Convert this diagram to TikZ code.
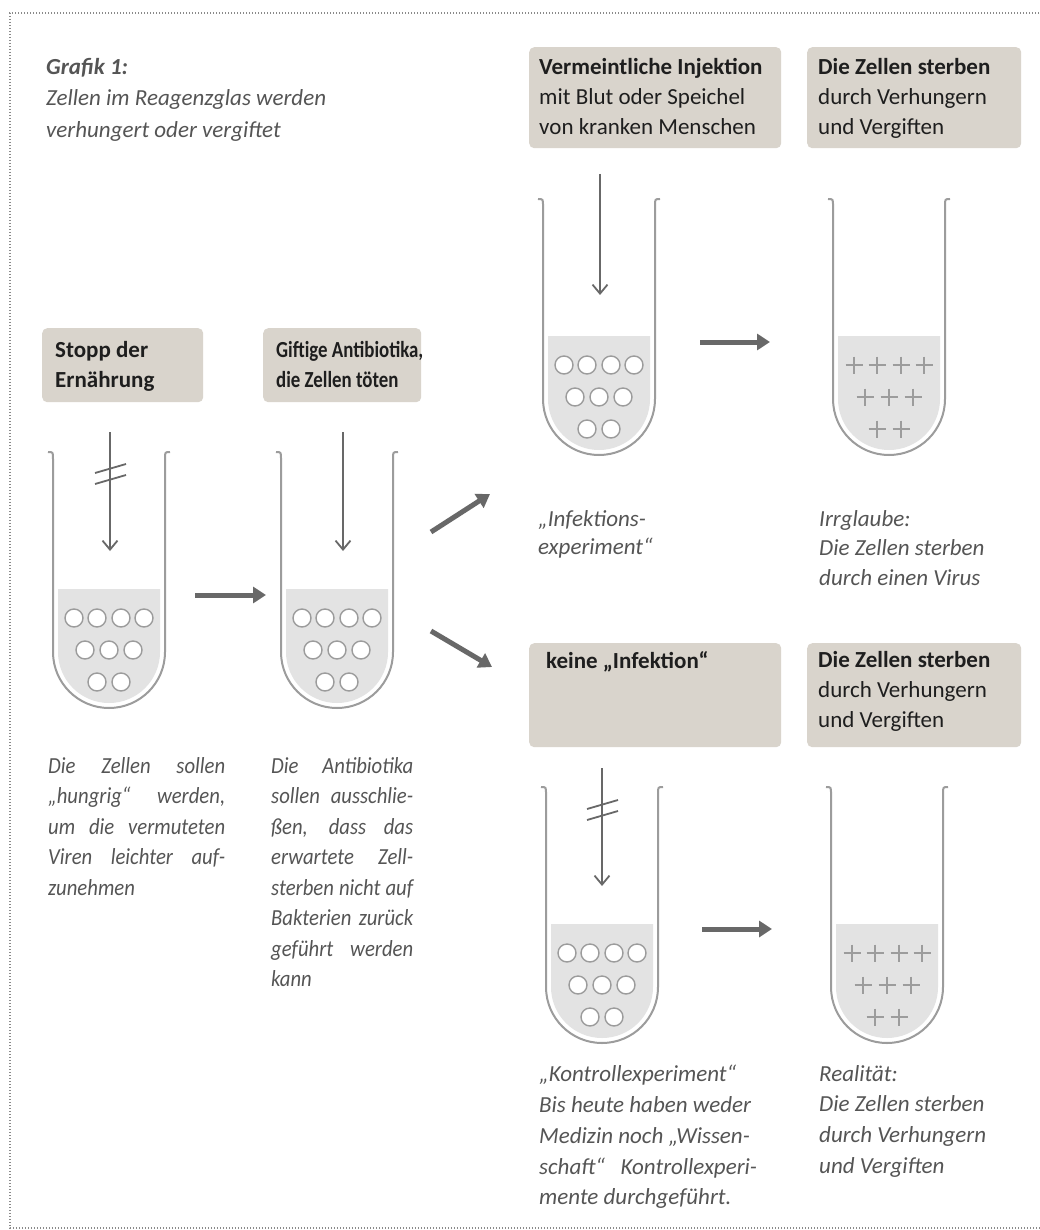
\documentclass[tikz,border=0pt]{standalone}
\usepackage{fontspec}
\setmainfont{Carlito}
\newfontfamily\narrowA{Carlito}[FakeStretch=0.82]
\newfontfamily\narrowB{Carlito}[FakeStretch=0.9]
\usetikzlibrary{arrows.meta}
\definecolor{boxfill}{HTML}{D9D4CC}
\definecolor{boxtxt}{HTML}{1E1E1E}
\definecolor{captxt}{HTML}{555555}
\definecolor{tubegray}{HTML}{9C9C9C}
\definecolor{liquidgray}{HTML}{E3E3E3}
\definecolor{arrowgray}{HTML}{686868}
\definecolor{bordergray}{HTML}{8A8A8A}
\newcommand\jline[2]{\makebox[#1][s]{#2}}
\begin{document}
\begin{tikzpicture}[x=1pt,y=-1pt,
  boxbg/.style={fill=boxfill, rounded corners=5pt, draw=none, inner sep=0, anchor=north west},
  boxtext/.style={anchor=north west, inner sep=0, align=left, text=boxtxt, font=\fontsize{23}{30}\selectfont},
  captext/.style={anchor=north west, inner sep=0, align=left, text=captxt, font=\fontsize{23}{30.8}\selectfont\itshape},
  tubeline/.style={draw=tubegray, line width=2pt},
  cell/.style={draw=tubegray, fill=white, line width=1.4pt},
  plusline/.style={draw=tubegray, line width=2pt},
  thinarrow/.style={draw=arrowgray, line width=1.8pt, -{Straight Barb[length=9pt,width=15pt,line width=1.8pt]}},
  strike/.style={draw=arrowgray, line width=1.8pt},
  thickarrow/.style={draw=arrowgray, line width=5pt, -{Triangle[length=13pt,width=16pt]}},
  tube/.pic={
    \fill[liquidgray] (-51,-119) -- (-51,-56) arc[start angle=180,end angle=0,radius=51] -- (51,-119) -- cycle;
    \draw[tubeline] (-61,-256) .. controls (-56,-256) .. (-56,-249) -- (-56,-56)
       arc[start angle=180,end angle=0,radius=56] -- (56,-249) .. controls (56,-256) .. (61,-256);
  },
  cells/.pic={
    \foreach \dx in {-35,-12,12,35} \draw[cell] (\dx,-90) circle[radius=9];
    \foreach \dx in {-24,0,24} \draw[cell] (\dx,-58) circle[radius=9];
    \foreach \dx in {-12,12} \draw[cell] (\dx,-26) circle[radius=9];
  },
  pluses/.pic={
    \foreach \dx/\dy in {-35/-90,-12/-90,12/-90,35/-90,-24/-58,0/-58,24/-58,-12/-26,12/-26}
      \draw[plusline] (\dx-8.5,\dy) -- (\dx+8.5,\dy) (\dx,\dy-8.5) -- (\dx,\dy+8.5);
  }
]
\useasboundingbox (0,0) rectangle (1039,1230);
\fill[white] (0,0) rectangle (1039,1230);
% dotted frame
\draw[bordergray, line width=1.4pt, dash pattern=on 1.4pt off 1.6pt] (1045,13) -- (10,13) -- (10,1228) -- (1045,1228);

% title
\node[captext, font=\fontsize{23}{31.5}\selectfont\itshape] (title) at (46,58)
  {\textbf{Grafik 1:}\\Zellen im Reagenzglas werden\\verhungert oder vergiftet};

% boxes
\node[boxbg, minimum width=161, minimum height=74] (b1) at (42,328) {};
\node[boxbg, minimum width=158, minimum height=74] (b2) at (263,328) {};
\node[boxbg, minimum width=252, minimum height=101] (b3) at (529,47) {};
\node[boxbg, minimum width=214, minimum height=101] (b4) at (807,47) {};
\node[boxbg, minimum width=252, minimum height=104] (b5) at (529,643) {};
\node[boxbg, minimum width=214, minimum height=104] (b6) at (807,643) {};

\node[boxtext] (t1) at (55,341) {\textbf{Stopp der}\\\textbf{Ernährung}};
\node[boxtext, font=\fontsize{23}{30}\narrowA] (t2) at (276,341) {\textbf{Giftige Antibiotika,}\\\textbf{die Zellen töten}};
\node[boxtext] (t3) at (539,58) {\textbf{Vermeintliche Injektion}\\mit Blut oder Speichel\\von kranken Menschen};
\node[boxtext] (t4) at (818,58) {\textbf{Die Zellen sterben}\\durch Verhungern\\und Vergiften};
\node[boxtext] (t5) at (546,651) {\textbf{keine „Infektion“}};
\node[boxtext] (t6) at (818,651) {\textbf{Die Zellen sterben}\\durch Verhungern\\und Vergiften};

% tubes
\pic at (109,708) {tube}; \pic at (109,708) {cells};
\pic at (337,708) {tube}; \pic at (337,708) {cells};
\pic at (599,455) {tube}; \pic at (599,455) {cells};
\pic at (889,455) {tube}; \pic at (889,455) {pluses};
\pic at (602,1043) {tube}; \pic at (602,1043) {cells};
\pic at (887,1043) {tube}; \pic at (887,1043) {pluses};

% down arrows
\coordinate (d1s) at (110,432); \coordinate (d1e) at (110,551);
\coordinate (d2s) at (343,432); \coordinate (d2e) at (343,551);
\coordinate (d3s) at (600,174); \coordinate (d3e) at (600,295);
\coordinate (d5s) at (602,768); \coordinate (d5e) at (602,886);
\draw[thinarrow] (d1s) -- (d1e);
\draw[thinarrow] (d2s) -- (d2e);
\draw[thinarrow] (d3s) -- (d3e);
\draw[thinarrow] (d5s) -- (d5e);
\draw[strike] ([shift={(-15,41)}]d1s) -- ([shift={(16,32)}]d1s);
\draw[strike] ([shift={(-15,52)}]d1s) -- ([shift={(16,43)}]d1s);
\draw[strike] ([shift={(-15,41)}]d5s) -- ([shift={(16,32)}]d5s);
\draw[strike] ([shift={(-15,52)}]d5s) -- ([shift={(16,43)}]d5s);

% thick arrows
\coordinate (h1s) at (195,595); \coordinate (h1e) at (266,595);
\coordinate (h3s) at (700,342); \coordinate (h3e) at (770,342);
\coordinate (h5s) at (702,929); \coordinate (h5e) at (772,929);
\coordinate (u1s) at (431,532); \coordinate (u1e) at (490,494);
\coordinate (l1s) at (431,631); \coordinate (l1e) at (492,667);
\draw[thickarrow] (h1s) -- (h1e);
\draw[thickarrow] (h3s) -- (h3e);
\draw[thickarrow] (h5s) -- (h5e);
\draw[thickarrow] (u1s) -- (u1e);
\draw[thickarrow] (l1s) -- (l1e);

% captions
\node[captext, font=\fontsize{23}{30.5}\narrowB\itshape] (c1) at (48,757) {\jline{177pt}{Die Zellen sollen}\\\jline{177pt}{„hungrig“ werden,}\\\jline{177pt}{um die vermuteten}\\\jline{177pt}{Viren leichter auf-}\\zunehmen};
\node[captext, font=\fontsize{23}{30.5}\narrowB\itshape] (c2) at (271,757) {\jline{142pt}{Die Antibiotika}\\\jline{142pt}{sollen ausschlie-}\\\jline{142pt}{ßen, dass das}\\\jline{142pt}{erwartete Zell-}\\\jline{142pt}{sterben nicht auf}\\\jline{142pt}{Bakterien zurück}\\\jline{142pt}{geführt werden}\\kann};
\node[captext, font=\fontsize{23}{28}\selectfont\itshape] (c3) at (538,510) {„Infektions-\\experiment“};
\node[captext, font=\fontsize{23}{29.5}\selectfont\itshape] (c4) at (819,510) {Irrglaube:\\Die Zellen sterben\\durch einen Virus};
\node[captext] (c5) at (539,1065) {„Kontrollexperiment“\\Bis heute haben weder\\Medizin noch „Wissen-\\schaft“~~ Kontrollexperi-\\mente durchgeführt.};
\node[captext] (c6) at (819,1065) {Realität:\\Die Zellen sterben\\durch Verhungern\\und Vergiften};
\end{tikzpicture}
\end{document}
